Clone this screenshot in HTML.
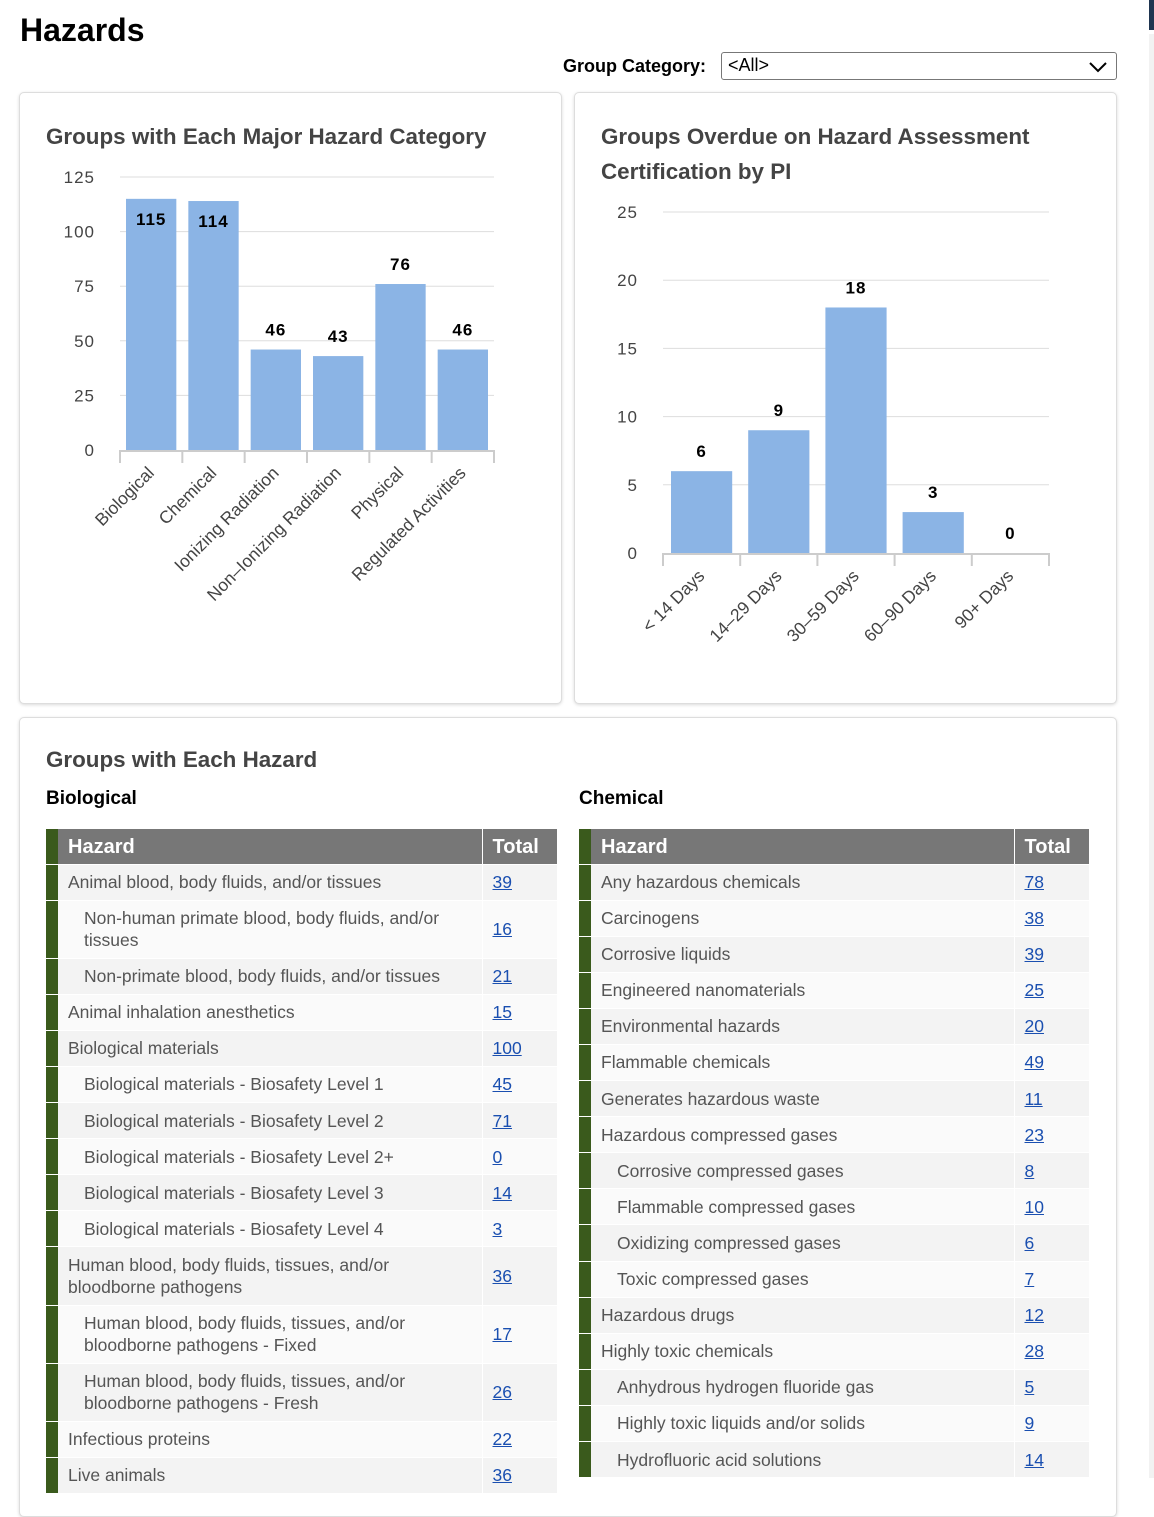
<!DOCTYPE html>
<html><head><meta charset="utf-8">
<style>
*{box-sizing:border-box}
body{margin:0;width:1154px;height:1478px;overflow:hidden;background:#fff;font-family:"Liberation Sans",Arial,sans-serif;position:relative}
h1{position:absolute;left:20px;top:12px;margin:0;font-size:32px;font-weight:bold;color:#000}
.lbl{position:absolute;left:563px;top:56px;font-size:18px;font-weight:bold;color:#000}
.sel{position:absolute;left:721px;top:52px;width:396px;height:28px;border:1px solid #777;border-radius:3px;font-size:18px;padding:2px 6px;color:#000}
.panel{position:absolute;border:1px solid #ddd;border-radius:5px;box-shadow:0 1px 3px rgba(0,0,0,.15);background:#fff}
svg text{font-family:"Liberation Sans",Arial,sans-serif}
.tbl{position:absolute;border-collapse:collapse;font-size:17.5px;color:#555}
.tbl th{background:#777;color:#fff;text-align:left;font-size:20px;height:35px;padding:2px 10px 0}
.tbl td{padding:6.5px 16px 6.6px 10px;line-height:22px;border-top:1px solid #fff;vertical-align:middle}
.tbl td.g,.tbl th.g{background:#3a5a1c;width:12px;padding:0}
.tbl tr:nth-child(even) td{background:#f3f3f3}
.tbl tr:nth-child(odd) td{background:#fafafa}
.tbl tr td.g{background:#3a5a1c}
.tbl td.t,.tbl th.t{border-left:1px solid #fff;width:75px;padding-right:4px}
.tbl a{color:#1a4fb0;text-decoration:underline}
.in{padding-left:26px!important}
.st{position:absolute;font-size:19px;font-weight:bold;color:#000}
</style></head><body>
<h1>Hazards</h1>
<div class="lbl">Group Category:</div>
<div class="sel">&lt;All&gt;<svg style="position:absolute;right:8px;top:8px" width="20" height="12"><path d="M2 2 L10 10 L18 2" stroke="#000" stroke-width="2" fill="none"/></svg></div>
<div style="position:absolute;left:1149px;top:0;width:5px;height:30px;background:#1f3550"></div>
<div style="position:absolute;left:1149px;top:34px;width:5px;height:1444px;background:#f2f2f2"></div>

<div class="panel" style="left:19px;top:92px;width:543px;height:612px"></div>
<div class="panel" style="left:574px;top:92px;width:543px;height:612px"></div>
<div class="panel" style="left:19px;top:717px;width:1098px;height:800px"></div>

<svg id="c1" style="position:absolute;left:0;top:0" width="570" height="710"></svg>
<svg id="c2" style="position:absolute;left:0;top:0" width="1154" height="710"></svg>

<div style="position:absolute;left:46px;top:747px;font-size:22.4px;font-weight:bold;color:#444">Groups with Each Hazard</div>
<div class="st" style="left:46px;top:788px">Biological</div>
<div class="st" style="left:579px;top:788px">Chemical</div>

<table class="tbl" style="left:46px;top:829px;width:511px">
<tr><th class="g"></th><th>Hazard</th><th class="t">Total</th></tr>
<tr><td class="g"></td><td>Animal blood, body fluids, and/or tissues</td><td class="t"><a>39</a></td></tr>
<tr><td class="g"></td><td class="in">Non-human primate blood, body fluids, and/or tissues</td><td class="t"><a>16</a></td></tr>
<tr><td class="g"></td><td class="in">Non-primate blood, body fluids, and/or tissues</td><td class="t"><a>21</a></td></tr>
<tr><td class="g"></td><td>Animal inhalation anesthetics</td><td class="t"><a>15</a></td></tr>
<tr><td class="g"></td><td>Biological materials</td><td class="t"><a>100</a></td></tr>
<tr><td class="g"></td><td class="in">Biological materials - Biosafety Level 1</td><td class="t"><a>45</a></td></tr>
<tr><td class="g"></td><td class="in">Biological materials - Biosafety Level 2</td><td class="t"><a>71</a></td></tr>
<tr><td class="g"></td><td class="in">Biological materials - Biosafety Level 2+</td><td class="t"><a>0</a></td></tr>
<tr><td class="g"></td><td class="in">Biological materials - Biosafety Level 3</td><td class="t"><a>14</a></td></tr>
<tr><td class="g"></td><td class="in">Biological materials - Biosafety Level 4</td><td class="t"><a>3</a></td></tr>
<tr><td class="g"></td><td>Human blood, body fluids, tissues, and/or<br>bloodborne pathogens</td><td class="t"><a>36</a></td></tr>
<tr><td class="g"></td><td class="in">Human blood, body fluids, tissues, and/or bloodborne pathogens - Fixed</td><td class="t"><a>17</a></td></tr>
<tr><td class="g"></td><td class="in">Human blood, body fluids, tissues, and/or bloodborne pathogens - Fresh</td><td class="t"><a>26</a></td></tr>
<tr><td class="g"></td><td>Infectious proteins</td><td class="t"><a>22</a></td></tr>
<tr><td class="g"></td><td>Live animals</td><td class="t"><a>36</a></td></tr>
</table>

<table class="tbl" style="left:579px;top:829px;width:510px">
<tr><th class="g"></th><th>Hazard</th><th class="t">Total</th></tr>
<tr><td class="g"></td><td>Any hazardous chemicals</td><td class="t"><a>78</a></td></tr>
<tr><td class="g"></td><td>Carcinogens</td><td class="t"><a>38</a></td></tr>
<tr><td class="g"></td><td>Corrosive liquids</td><td class="t"><a>39</a></td></tr>
<tr><td class="g"></td><td>Engineered nanomaterials</td><td class="t"><a>25</a></td></tr>
<tr><td class="g"></td><td>Environmental hazards</td><td class="t"><a>20</a></td></tr>
<tr><td class="g"></td><td>Flammable chemicals</td><td class="t"><a>49</a></td></tr>
<tr><td class="g"></td><td>Generates hazardous waste</td><td class="t"><a>11</a></td></tr>
<tr><td class="g"></td><td>Hazardous compressed gases</td><td class="t"><a>23</a></td></tr>
<tr><td class="g"></td><td class="in">Corrosive compressed gases</td><td class="t"><a>8</a></td></tr>
<tr><td class="g"></td><td class="in">Flammable compressed gases</td><td class="t"><a>10</a></td></tr>
<tr><td class="g"></td><td class="in">Oxidizing compressed gases</td><td class="t"><a>6</a></td></tr>
<tr><td class="g"></td><td class="in">Toxic compressed gases</td><td class="t"><a>7</a></td></tr>
<tr><td class="g"></td><td>Hazardous drugs</td><td class="t"><a>12</a></td></tr>
<tr><td class="g"></td><td>Highly toxic chemicals</td><td class="t"><a>28</a></td></tr>
<tr><td class="g"></td><td class="in">Anhydrous hydrogen fluoride gas</td><td class="t"><a>5</a></td></tr>
<tr><td class="g"></td><td class="in">Highly toxic liquids and/or solids</td><td class="t"><a>9</a></td></tr>
<tr><td class="g"></td><td class="in">Hydrofluoric acid solutions</td><td class="t"><a>14</a></td></tr>
</table>

<script>
const cats1 = ["Biological","Chemical","Ionizing Radiation","Non-Ionizing Radiation","Physical","Regulated Activities"];
const vals1 = [115,114,46,43,76,46];
const ticks1 = [0,25,50,75,100,125];
const cats2 = ["< 14 Days","14-29 Days","30-59 Days","60-90 Days","90+ Days"];
const vals2 = [6,9,18,3,0];
const ticks2 = [0,5,10,15,20,25];
const NS="http://www.w3.org/2000/svg";
function mk(svg,tag,attrs,txt){const e=document.createElementNS(NS,tag);for(const k in attrs)e.setAttribute(k,attrs[k]);if(txt!==undefined)e.textContent=txt;svg.appendChild(e);return e;}
function chart(id,cats,vals,ticks,o){
  const svg=document.getElementById(id);
  const max=ticks[ticks.length-1];
  const y=v=>o.y0-(o.y0-o.yTop)*v/max;
  const band=(o.x1-o.x0)/cats.length;
  mk(svg,'text',{x:o.tx,y:o.ty,'font-size':22.4,'font-weight':'bold',fill:'#444'},o.title[0]);
  if(o.title[1])mk(svg,'text',{x:o.tx,y:o.ty+35,'font-size':22.4,'font-weight':'bold',fill:'#444'},o.title[1]);
  ticks.forEach(t=>{
    if(t>0){const g=mk(svg,'line',{x1:o.x0,x2:o.x1,y1:y(t),y2:y(t),stroke:'#ddd'});
    }
    const l=mk(svg,'text',{x:o.lx,y:y(t)+6,'text-anchor':'end','font-size':17,fill:'#444','letter-spacing':'1'},t);
    
  });
  const ax=mk(svg,'line',{x1:o.x0,x2:o.x1,y1:o.y0+1,y2:o.y0+1,stroke:'#ccc','stroke-width':2});
  
  for(let i=0;i<=cats.length;i++){mk(svg,'line',{x1:o.x0+i*band,x2:o.x0+i*band,y1:o.y0,y2:o.y0+13,stroke:'#ccc','stroke-width':2});}
  cats.forEach((c,i)=>{
    const bx=o.x0+i*band+o.pad, bw=band-2*o.pad;
    const r=mk(svg,'rect',{x:bx,y:y(vals[i]),width:bw,height:o.y0-y(vals[i]),fill:'#8bb4e5'});
    
    
    const inside = vals[i] > 0.85*max;
    const vl=mk(svg,'text',{x:bx+bw/2,y:inside?y(vals[i])+26:y(vals[i])-14,'text-anchor':'middle','font-size':17,'font-weight':'bold',fill:'#000','letter-spacing':'1'},vals[i]);
    
    const cx=o.x0+i*band+band/2+4, cy=o.y0+24;
    const cl=mk(svg,'text',{x:cx,y:cy,'text-anchor':'end','font-size':17.5,fill:'#444',transform:`rotate(-45 ${cx} ${cy})`},c.replace(/-/g,'–'));
    
  });
}
chart('c1',cats1,vals1,ticks1,{x0:120,x1:494,y0:450,yTop:177,lx:95,pad:6,tx:46,ty:144,title:["Groups with Each Major Hazard Category"]});
chart('c2',cats2,vals2,ticks2,{x0:663,x1:1049,y0:553,yTop:212,lx:638,pad:8,tx:601,ty:144,title:["Groups Overdue on Hazard Assessment","Certification by PI"]});
</script>
</body></html>
